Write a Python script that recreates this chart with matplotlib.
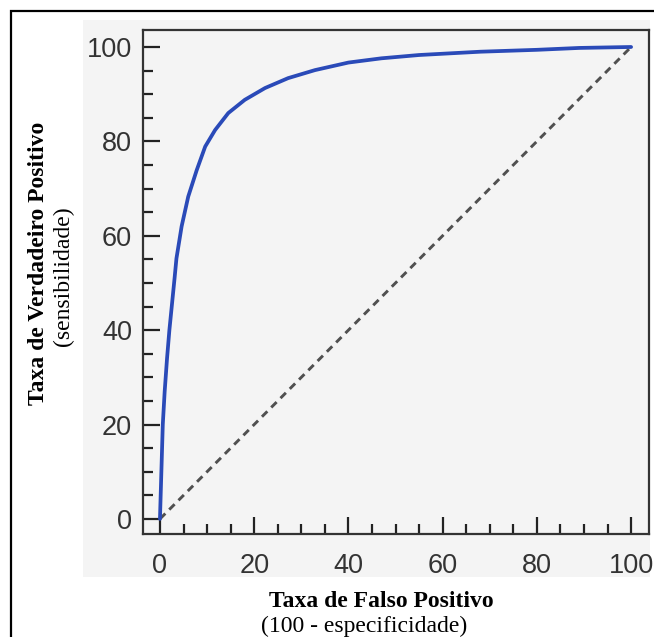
import matplotlib
matplotlib.use('Agg')
import matplotlib.pyplot as plt
from matplotlib.patches import Rectangle
from matplotlib.ticker import MultipleLocator

# curva ROC (taxa de falso positivo, taxa de verdadeiro positivo)
fpr = [0, 0.3, 0.6, 1.0, 1.5, 2.0, 2.6, 3.1, 3.5, 4.6, 6.0, 7.8, 9.6, 11.7, 14.5, 18,
       22.3, 27.2, 32.9, 40, 47, 55, 68, 80, 89, 100]
tpr = [0, 10, 20, 27, 34, 40, 46, 51, 55.2, 62, 68.3, 73.9, 78.9, 82.4, 86, 88.8,
       91.3, 93.4, 95.1, 96.7, 97.6, 98.3, 99, 99.4, 99.8, 100]
diag = [0, 100]
ticks = [0, 20, 40, 60, 80, 100]

W, H = 654, 637
fig = plt.figure(figsize=(W / 100, H / 100), dpi=100)

def fx(x):
  return x / W

def fy(y):
  return 1 - y / H

# moldura externa e painel cinza
fig.patches.append(Rectangle((fx(11), fy(660)), fx(700), fy(11) - fy(660), transform=fig.transFigure,
                             fill=False, edgecolor='black', linewidth=1.6, zorder=-2))
fig.patches.append(Rectangle((fx(83), fy(577)), fx(650) - fx(83), fy(20) - fy(577), transform=fig.transFigure,
                             facecolor='#f4f4f4', edgecolor='none', zorder=-1))

ax = fig.add_axes([fx(143), fy(534), fx(649) - fx(143), fy(30) - fy(534)])
ax.set_facecolor('#f4f4f4')

ax.plot(diag, diag, color='#505050', linewidth=2.1, linestyle=(0, (2.6, 1.9)))
ax.plot(fpr, tpr, color='#2a4ab8', linewidth=2.7, solid_capstyle='round', solid_joinstyle='round')

ax.set_xlim(-3.6, 103.8)
ax.set_ylim(-3.2, 103.6)
ax.set_xticks(ticks)
ax.set_yticks(ticks)
ax.xaxis.set_minor_locator(MultipleLocator(5))
ax.yaxis.set_minor_locator(MultipleLocator(5))
ax.tick_params(which='both', direction='in', width=1.6, color='#222222', top=False, right=False)
ax.tick_params(which='major', length=12)
ax.tick_params(which='minor', length=7)
ax.tick_params(axis='x', pad=14)
ax.tick_params(axis='y', pad=8)
for lab in ax.get_xticklabels() + ax.get_yticklabels():
  lab.set_fontfamily('Liberation Sans')
  lab.set_fontsize(19.5)
  lab.set_color('#333333')
for s in ax.spines.values():
  s.set_linewidth(1.6)
  s.set_color('#333333')

serif = 'Liberation Serif'
fig.text(fx(381), fy(607), 'Taxa de Falso Positivo', family=serif, weight='bold',
         fontsize=17, ha='center', va='baseline')
fig.text(fx(364), fy(632), '(100 - especificidade)', family=serif,
         fontsize=17, ha='center', va='baseline')
fig.text(fx(39), fy(263), 'Taxa de Verdadeiro Positivo', family=serif, weight='bold',
         fontsize=17, ha='center', va='center', rotation=90)
fig.text(fx(63), fy(276), '(sensibilidade)', family=serif,
         fontsize=17, ha='center', va='center', rotation=90)

fig.savefig('out.png', dpi=100)
